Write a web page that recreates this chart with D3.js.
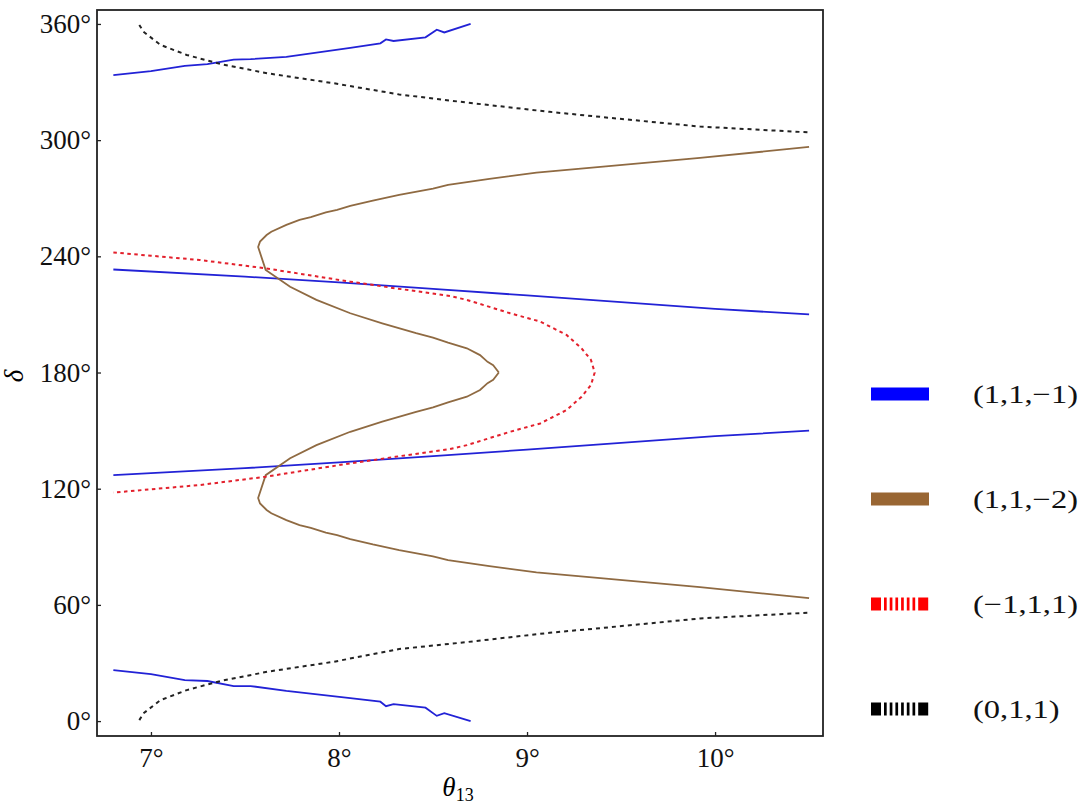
<!DOCTYPE html>
<html>
<head>
<meta charset="utf-8">
<script src="https://cdn.jsdelivr.net/npm/d3@7"></script>
<style>
  body { margin: 0; background: #fff; }
</style>
</head>
<body>
<div id="chart"></div>
<script>
// values: [theta13 (deg), delta (deg)]
var blueTop = [[6.80,333.6],[7.00,335.6],[7.18,338.4],[7.30,339.2],[7.44,341.6],[7.53,341.8],[7.72,343.0],[8.06,347.6],[8.22,350.0],[8.25,352.0],[8.29,351.2],[8.46,353.1],[8.52,357.0],[8.56,355.6],[8.70,360.0]];
var blueBottom = [[6.80,26.3],[7.00,24.2],[7.18,21.2],[7.30,20.7],[7.44,18.1],[7.53,18.1],[7.72,15.6],[8.06,11.9],[8.22,10.0],[8.25,7.7],[8.29,8.8],[8.46,6.9],[8.52,2.7],[8.56,4.1],[8.70,0.0]];
var blueMidUpper = [[6.80,233.2],[7.50,229.5],[8.00,226.5],[8.50,223.2],[9.00,219.8],[9.50,216.3],[10.00,212.9],[10.50,210.0]];
var blueMidLower = [[6.80,127.0],[7.50,130.6],[8.00,133.6],[8.50,136.8],[9.00,140.2],[9.50,143.7],[10.00,147.1],[10.50,150.0]];

var brownUpper = [[8.85,180],[8.82,183.8],[8.79,185.5],[8.75,189],[8.68,192.5],[8.58,195.4],[8.50,198],[8.41,200.3],[8.23,205.4],[8.06,210.6],[7.88,217.5],[7.74,224.3],[7.61,233],[7.57,244.8],[7.58,247.6],[7.615,251],[7.64,252.7],[7.72,256.2],[7.79,258.8],[7.85,260.2],[7.93,262.7],[7.99,264],[8.06,266],[8.18,268.8],[8.32,271.7],[8.50,275],[8.58,276.9],[8.80,280],[9.05,283.2],[9.39,286.2],[9.92,290.8],[10.50,296.5]];
var brownLower = [[8.85,180],[8.82,176.2],[8.79,174.5],[8.75,171],[8.68,167.5],[8.58,164.6],[8.50,162],[8.41,159.7],[8.23,154.6],[8.06,149.4],[7.88,142.5],[7.74,135.7],[7.61,127],[7.57,115.2],[7.58,112.4],[7.615,109],[7.64,107.3],[7.72,103.8],[7.79,101.2],[7.85,99.8],[7.93,97.3],[7.99,96],[8.06,94],[8.18,91.2],[8.32,88.3],[8.50,85],[8.58,83.1],[8.80,80],[9.05,76.8],[9.39,73.8],[9.92,69.2],[10.50,63.5]];

var redUpper = [[6.80,242],[7.00,240.3],[7.26,238.1],[7.61,233.8],[8.06,226.9],[8.30,223.5],[8.59,219.5],[8.68,217.5],[8.91,210.6],[9.07,206.3],[9.21,199.4],[9.29,192.5],[9.34,186.5],[9.36,180]];
var redLower = [[6.80,118],[7.00,119.7],[7.26,121.9],[7.61,126.2],[8.06,133.1],[8.30,136.5],[8.59,140.5],[8.68,142.5],[8.91,149.4],[9.07,153.7],[9.21,160.6],[9.29,167.5],[9.34,173.5],[9.36,180]];

var blackUpper = [[6.938,359.5],[6.96,356],[7.05,349.2],[7.19,344],[7.37,339.3],[7.62,334.5],[7.97,329.4],[8.32,323.6],[8.68,319.4],[9.12,314.6],[9.39,312],[9.92,307],[10.50,304]];
var blackLower = [[6.938,0.5],[6.96,4],[7.05,10.8],[7.19,16],[7.37,20.7],[7.62,25.5],[7.97,30.6],[8.32,37.2],[8.68,40.8],[9.12,45.6],[9.39,48],[9.92,53],[10.50,56]];

var xTicks = [7, 8, 9, 10];
var yTicks = [0, 60, 120, 180, 240, 300, 360];
var legendLabels = ["(1,1,\u22121)", "(1,1,\u22122)", "(\u22121,1,1)", "(0,1,1)"];
var legendColors = ["#0000ff", "#996633", "#ff0000", "#000000"];

var serif = "'Liberation Serif'";

var margin = {top: 10, right: 260, bottom: 71, left: 97},
    width = 726,
    height = 726;

var svg = d3.select("#chart")
  .append("svg")
  .attr("width", 1083)
  .attr("height", 807)
  .append("g")
  .attr("transform", "translate(" + margin.left + "," + margin.top + ")");

var x = d3.scaleLinear().domain([6.713, 10.574]).range([0, width]);
var y = d3.scaleLinear().domain([-7.7, 367.2]).range([height, 0]);

// axes, ticks pointing inward
svg.append("g")
  .attr("class", "xaxis")
  .attr("transform", "translate(0," + height + ")")
  .call(d3.axisBottom(x).tickValues(xTicks).tickSize(-4).tickPadding(8)
        .tickFormat(function(d) { return d + "\u00b0"; }));

svg.append("g")
  .attr("class", "yaxis")
  .call(d3.axisLeft(y).tickValues(yTicks).tickSize(-4).tickPadding(6)
        .tickFormat(function(d) { return d + "\u00b0"; }));

svg.selectAll(".xaxis, .yaxis").attr("font-family", null).attr("font-size", null);
svg.selectAll(".xaxis text, .yaxis text")
  .style("font-family", serif)
  .style("font-size", "27px")
  .attr("fill", "#111");
svg.selectAll(".xaxis text").attr("dy", "0.85em");
svg.selectAll(".domain").remove();
svg.selectAll(".tick line").attr("stroke", "#222").attr("stroke-width", 1.3);

// frame
svg.append("rect")
  .attr("x", 0).attr("y", 0)
  .attr("width", width).attr("height", height)
  .attr("fill", "none")
  .attr("stroke", "#222")
  .attr("stroke-width", 1.8);

var line = d3.line()
  .x(function(d) { return x(d[0]); })
  .y(function(d) { return y(d[1]); });

var plot = svg.append("g");

[blueTop, blueBottom, blueMidUpper, blueMidLower].forEach(function(s) {
  plot.append("path").datum(s)
    .attr("d", line)
    .attr("fill", "none")
    .attr("stroke", "#2222d6")
    .attr("stroke-width", 1.8);
});

[brownUpper, brownLower].forEach(function(s) {
  plot.append("path").datum(s)
    .attr("d", line)
    .attr("fill", "none")
    .attr("stroke", "#8f6a42")
    .attr("stroke-width", 1.8);
});

plot.append("path").datum(redUpper.concat(redLower.slice().reverse()))
  .attr("d", line)
  .attr("fill", "none")
  .attr("stroke", "#e3202c")
  .attr("stroke-width", 2)
  .attr("stroke-dasharray", "3.5,3.5");

[blackUpper, blackLower].forEach(function(s) {
  plot.append("path").datum(s)
    .attr("d", line)
    .attr("fill", "none")
    .attr("stroke", "#222")
    .attr("stroke-width", 2)
    .attr("stroke-dasharray", "4,4");
});

// axis labels
svg.append("text")
  .attr("transform", "translate(" + (-74) + "," + (height / 2 + 3) + ")rotate(-90)")
  .attr("text-anchor", "middle")
  .style("font-family", serif)
  .style("font-size", "27px")
  .style("font-style", "italic")
  .text("\u03b4");

var xl = svg.append("text")
  .attr("x", width / 2 - 2)
  .attr("y", height + 60)
  .attr("text-anchor", "middle")
  .style("font-family", serif)
  .style("font-size", "27px");
xl.append("tspan").style("font-style", "italic").text("\u03b8");
xl.append("tspan").attr("dy", 5).style("font-size", "18px").text("13");

// legend
var legend = svg.append("g").attr("transform", "translate(" + (871 - margin.left) + ",0)");
var rowY = [394, 499, 604, 709];
var stripes = "10,3,2.7,3,2.7,3,2.7,3,2.7,3,2.7,3,2.7,3,10,200";

legendLabels.forEach(function(lab, i) {
  var yy = rowY[i] - margin.top;
  legend.append("line")
    .attr("x1", 0).attr("x2", 58)
    .attr("y1", yy).attr("y2", yy)
    .attr("stroke", legendColors[i])
    .attr("stroke-width", 13)
    .attr("stroke-dasharray", i >= 2 ? stripes : null);
  // the legend labels are drawn a little wider than the tick labels
  legend.append("text")
    .attr("transform", "translate(102," + yy + ") scale(1.25,1)")
    .attr("dy", "0.33em")
    .style("font-family", serif)
    .style("font-size", "26px")
    .attr("fill", "#111")
    .text(lab);
});
</script>
</body>
</html>
